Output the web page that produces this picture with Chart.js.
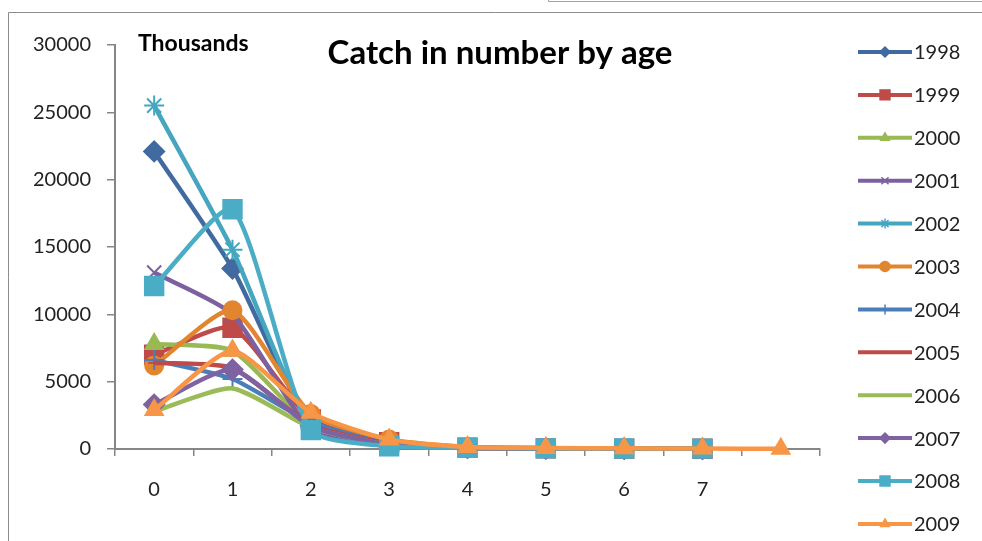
<!DOCTYPE html>
<html>
<head>
<meta charset="utf-8">
<title>Catch in number by age</title>
<script src="https://cdn.jsdelivr.net/npm/chart.js@4.4.1/dist/chart.umd.min.js"></script>
<style>
  html, body { margin: 0; padding: 0; background: #fff; }
  #wrap { position: relative; width: 982px; height: 541px; }
</style>
</head>
<body>
<div id="wrap"><canvas id="catchChart" width="982" height="541"></canvas></div>
<script>
// ages on the x axis (last category has no label in the original)
const ages = ['0', '1', '2', '3', '4', '5', '6', '7', ''];
const years = ['1998', '1999', '2000', '2001', '2002', '2003', '2004', '2005', '2006', '2007', '2008', '2009'];

// catch in number, thousands
const c1998 = [22100, 13400, 2000, 300, 100, 50, 30, 20];
const c1999 = [7000, 9000, 2200, 500, 100, 50, 30, 20];
const c2000 = [7800, 7300, 1800, 400, 100, 50, 30, 20];
const c2001 = [13100, 10000, 1500, 200, 80, 40, 20, 10];
const c2002 = [25500, 14800, 1900, 300, 100, 50, 30, 20];
const c2003 = [6200, 10300, 2600, 700, 150, 60, 30, 20];
const c2004 = [6600, 5200, 2000, 400, 100, 50, 30, 20];
const c2005 = [6400, 6000, 1800, 400, 100, 50, 30, 20];
const c2006 = [2800, 4500, 1600, 300, 80, 40, 20, 10];
const c2007 = [3300, 5900, 1700, 300, 80, 40, 20, 10];
const c2008 = [12100, 17800, 1400, 200, 100, 50, 40, 30];
const c2009 = [2900, 7300, 2700, 700, 150, 80, 50, 30, 10];

const yTicks = [0, 5000, 10000, 15000, 20000, 25000, 30000];

const seriesValues = [c1998, c1999, c2000, c2001, c2002, c2003, c2004, c2005, c2006, c2007, c2008, c2009];
const colors = ['#416aa0', '#be4b48', '#98b954', '#7d60a0', '#46a6c0', '#e2852f',
                '#4a7ebb', '#be4b48', '#9bbb59', '#7e62a1', '#4bacc6', '#f79646'];
const markers = ['rectRot', 'rect', 'triangle', 'crossRot', 'star', 'circle',
                 'cross', 'line', 'line', 'rectRot', 'rect', 'triangle'];

function markerRadius(style) {
  if (style === 'rect') return 13;
  if (style === 'line') return 6;
  if (style === 'cross' || style === 'crossRot' || style === 'star') return 10;
  if (style === 'circle') return 9;
  return 10;
}

const datasets = years.map((yr, i) => ({
  label: yr,
  data: seriesValues[i],
  borderColor: colors[i],
  backgroundColor: colors[i],
  pointBackgroundColor: colors[i],
  pointBorderColor: colors[i],
  pointStyle: markers[i],
  pointRadius: markerRadius(markers[i]),
  pointBorderWidth: 2,
  borderWidth: 4.5,
  tension: 0.2,
  clip: { left: 20, top: 20, right: 20, bottom: 12 }, // markers on the axis stay whole
  order: years.length - i // later years drawn on top, like Excel
}));

// frame, title, "Thousands" and an Excel-style legend (line + marker)
const decorPlugin = {
  id: 'decor',
  beforeDraw(chart) {
    const ctx = chart.ctx;
    ctx.save();
    ctx.fillStyle = '#fff';
    ctx.fillRect(0, 0, chart.width, chart.height);
    ctx.strokeStyle = '#8c8c8c';
    ctx.lineWidth = 1;
    ctx.beginPath();
    ctx.moveTo(8.5, 545);
    ctx.lineTo(8.5, 12.5);
    ctx.lineTo(990, 12.5);
    ctx.stroke();
    ctx.strokeStyle = '#a0a0a0';
    ctx.beginPath();
    ctx.moveTo(548.5, -2);
    ctx.lineTo(548.5, 1.5);
    ctx.lineTo(990, 1.5);
    ctx.stroke();
    ctx.restore();
  },
  afterDraw(chart) {
    const ctx = chart.ctx;
    ctx.save();
    ctx.fillStyle = '#000';
    ctx.textBaseline = 'middle';
    ctx.textAlign = 'center';
    ctx.font = 'bold 33px Lato';
    ctx.fillText('Catch in number by age', 500, 53);
    ctx.textAlign = 'left';
    ctx.font = 'bold 23px Lato';
    ctx.fillText('Thousands', 138, 44);

    ctx.font = '20px Lato';
    chart.data.datasets.forEach((ds, i) => {
      const y = 52 + i * 42.9;
      ctx.strokeStyle = ds.borderColor;
      ctx.lineWidth = 4;
      ctx.beginPath();
      ctx.moveTo(858, y);
      ctx.lineTo(912, y);
      ctx.stroke();
      ctx.fillStyle = ds.borderColor;
      ctx.lineWidth = 1.5;
      Chart.helpers.drawPoint(ctx, {
        pointStyle: ds.pointStyle,
        radius: ds.pointStyle === 'rect' ? 7 : 5,
        rotation: 0,
        borderWidth: 1.5
      }, 885, y);
      ctx.fillStyle = '#222';
      ctx.fillText(ds.label, 914, y + 1);
    });
    ctx.restore();
  }
};

const ctx = document.getElementById('catchChart').getContext('2d');
const catchChart = new Chart(ctx, {
  type: 'line',
  data: { labels: ages, datasets },
  options: {
    responsive: false,
    animation: false,
    layout: { padding: { left: 10, top: 45, right: 162, bottom: 0 } },
    plugins: {
      legend: { display: false },
      title: { display: false },
      tooltip: { enabled: false }
    },
    scales: {
      x: {
        type: 'category',
        offset: true,
        afterFit(scale) { scale.height = 92; },
        grid: {
          offset: true,
          drawOnChartArea: false,
          drawTicks: true,
          tickLength: 7,
          color: '#868686',
          lineWidth: 1.5
        },
        border: { color: '#868686', width: 2 },
        ticks: {
          color: '#222',
          font: { family: 'Lato', size: 20 },
          padding: 22,
          maxRotation: 0,
          autoSkip: false
        }
      },
      y: {
        min: 0,
        max: 30000,
        afterFit(scale) { scale.width = 105; },
        afterBuildTicks(scale) { scale.ticks = yTicks.map(v => ({ value: v })); },
        grid: {
          drawOnChartArea: false,
          drawTicks: true,
          tickLength: 8,
          color: '#868686',
          lineWidth: 1.5
        },
        border: { color: '#868686', width: 2 },
        ticks: {
          color: '#222',
          font: { family: 'Lato', size: 20 },
          padding: 16,
          callback: v => String(v)
        }
      }
    }
  },
  plugins: [decorPlugin]
});
</script>
</body>
</html>
